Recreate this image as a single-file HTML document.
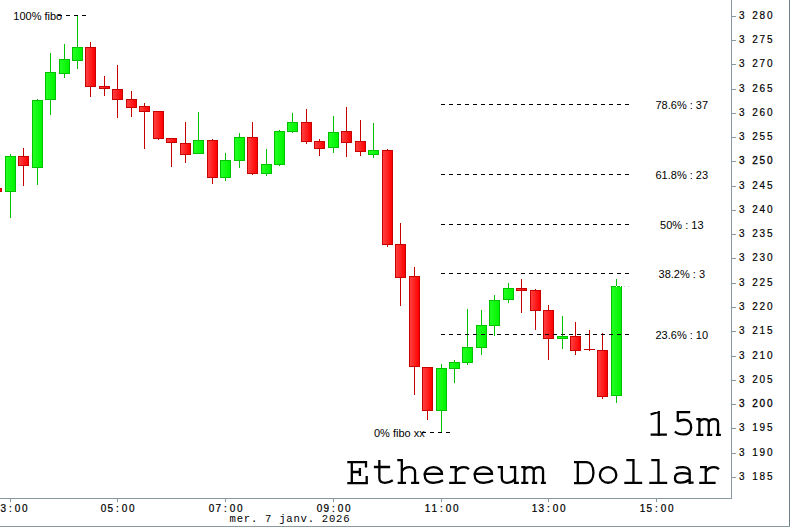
<!DOCTYPE html><html><head><meta charset="utf-8"><title>Ethereum Dollar 15m</title><style>
html,body{margin:0;padding:0;background:#fff;}body{width:790px;height:527px;overflow:hidden;position:relative;}
svg{position:absolute;left:0;top:0;display:block;}
.s{font-family:"Liberation Sans",sans-serif;font-size:11px;fill:#000;}
.ax{font-family:"Liberation Sans",sans-serif;font-size:10px;fill:#000;}
.m{font-family:"Liberation Mono",monospace;fill:#000;}
</style></head><body>
<svg width="790" height="527" viewBox="0 0 790 527">
<defs><linearGradient id="gg" x1="0" x2="1" y1="0" y2="0"><stop offset="0" stop-color="#22ff22"/><stop offset="1" stop-color="#00f400"/></linearGradient>
<linearGradient id="rg" x1="0" x2="1" y1="0" y2="0"><stop offset="0" stop-color="#ff4040"/><stop offset="1" stop-color="#ff0000"/></linearGradient></defs>
<rect x="0" y="0" width="790" height="527" fill="#fff"/>
<g shape-rendering="crispEdges">
<rect x="-4" y="188" width="1" height="4" fill="#c80000"/>
<rect x="-9" y="188" width="11" height="4" fill="#c80000"/>
<rect x="-8" y="189" width="9" height="2" fill="url(#rg)"/>
<rect x="10" y="154" width="1" height="64" fill="#00c000"/>
<rect x="5" y="156" width="11" height="36" fill="#00c000"/>
<rect x="6" y="157" width="9" height="34" fill="url(#gg)"/>
<rect x="23" y="148" width="1" height="38" fill="#c80000"/>
<rect x="18" y="156" width="11" height="10" fill="#c80000"/>
<rect x="19" y="157" width="9" height="8" fill="url(#rg)"/>
<rect x="37" y="99" width="1" height="86" fill="#00c000"/>
<rect x="32" y="100" width="11" height="68" fill="#00c000"/>
<rect x="33" y="101" width="9" height="66" fill="url(#gg)"/>
<rect x="50" y="53" width="1" height="62" fill="#00c000"/>
<rect x="45" y="72" width="11" height="28" fill="#00c000"/>
<rect x="46" y="73" width="9" height="26" fill="url(#gg)"/>
<rect x="64" y="44" width="1" height="34" fill="#00c000"/>
<rect x="59" y="59" width="11" height="15" fill="#00c000"/>
<rect x="60" y="60" width="9" height="13" fill="url(#gg)"/>
<rect x="77" y="15" width="1" height="54" fill="#00c000"/>
<rect x="72" y="47" width="11" height="14" fill="#00c000"/>
<rect x="73" y="48" width="9" height="12" fill="url(#gg)"/>
<rect x="90" y="42" width="1" height="55" fill="#c80000"/>
<rect x="85" y="47" width="11" height="40" fill="#c80000"/>
<rect x="86" y="48" width="9" height="38" fill="url(#rg)"/>
<rect x="104" y="76" width="1" height="20" fill="#c80000"/>
<rect x="99" y="86" width="11" height="3" fill="#c80000"/>
<rect x="100" y="87" width="9" height="1" fill="url(#rg)"/>
<rect x="117" y="65" width="1" height="53" fill="#c80000"/>
<rect x="112" y="89" width="11" height="11" fill="#c80000"/>
<rect x="113" y="90" width="9" height="9" fill="url(#rg)"/>
<rect x="131" y="91" width="1" height="26" fill="#c80000"/>
<rect x="126" y="99" width="11" height="9" fill="#c80000"/>
<rect x="127" y="100" width="9" height="7" fill="url(#rg)"/>
<rect x="144" y="103" width="1" height="46" fill="#c80000"/>
<rect x="139" y="106" width="11" height="6" fill="#c80000"/>
<rect x="140" y="107" width="9" height="4" fill="url(#rg)"/>
<rect x="158" y="111" width="1" height="29" fill="#c80000"/>
<rect x="153" y="111" width="11" height="28" fill="#c80000"/>
<rect x="154" y="112" width="9" height="26" fill="url(#rg)"/>
<rect x="171" y="138" width="1" height="29" fill="#c80000"/>
<rect x="166" y="138" width="11" height="5" fill="#c80000"/>
<rect x="167" y="139" width="9" height="3" fill="url(#rg)"/>
<rect x="185" y="122" width="1" height="41" fill="#c80000"/>
<rect x="180" y="143" width="11" height="12" fill="#c80000"/>
<rect x="181" y="144" width="9" height="10" fill="url(#rg)"/>
<rect x="198" y="112" width="1" height="42" fill="#00c000"/>
<rect x="193" y="140" width="11" height="14" fill="#00c000"/>
<rect x="194" y="141" width="9" height="12" fill="url(#gg)"/>
<rect x="212" y="139" width="1" height="45" fill="#c80000"/>
<rect x="207" y="140" width="11" height="38" fill="#c80000"/>
<rect x="208" y="141" width="9" height="36" fill="url(#rg)"/>
<rect x="225" y="153" width="1" height="28" fill="#00c000"/>
<rect x="220" y="160" width="11" height="18" fill="#00c000"/>
<rect x="221" y="161" width="9" height="16" fill="url(#gg)"/>
<rect x="239" y="133" width="1" height="35" fill="#00c000"/>
<rect x="234" y="137" width="11" height="24" fill="#00c000"/>
<rect x="235" y="138" width="9" height="22" fill="url(#gg)"/>
<rect x="252" y="122" width="1" height="53" fill="#c80000"/>
<rect x="247" y="137" width="11" height="37" fill="#c80000"/>
<rect x="248" y="138" width="9" height="35" fill="url(#rg)"/>
<rect x="266" y="149" width="1" height="27" fill="#00c000"/>
<rect x="261" y="164" width="11" height="10" fill="#00c000"/>
<rect x="262" y="165" width="9" height="8" fill="url(#gg)"/>
<rect x="279" y="130" width="1" height="36" fill="#00c000"/>
<rect x="274" y="131" width="11" height="34" fill="#00c000"/>
<rect x="275" y="132" width="9" height="32" fill="url(#gg)"/>
<rect x="292" y="113" width="1" height="20" fill="#00c000"/>
<rect x="287" y="122" width="11" height="10" fill="#00c000"/>
<rect x="288" y="123" width="9" height="8" fill="url(#gg)"/>
<rect x="306" y="109" width="1" height="35" fill="#c80000"/>
<rect x="301" y="122" width="11" height="20" fill="#c80000"/>
<rect x="302" y="123" width="9" height="18" fill="url(#rg)"/>
<rect x="319" y="139" width="1" height="17" fill="#c80000"/>
<rect x="314" y="141" width="11" height="8" fill="#c80000"/>
<rect x="315" y="142" width="9" height="6" fill="url(#rg)"/>
<rect x="333" y="116" width="1" height="37" fill="#00c000"/>
<rect x="328" y="132" width="11" height="16" fill="#00c000"/>
<rect x="329" y="133" width="9" height="14" fill="url(#gg)"/>
<rect x="346" y="107" width="1" height="50" fill="#c80000"/>
<rect x="341" y="131" width="11" height="12" fill="#c80000"/>
<rect x="342" y="132" width="9" height="10" fill="url(#rg)"/>
<rect x="360" y="120" width="1" height="36" fill="#c80000"/>
<rect x="355" y="141" width="11" height="11" fill="#c80000"/>
<rect x="356" y="142" width="9" height="9" fill="url(#rg)"/>
<rect x="373" y="123" width="1" height="35" fill="#00c000"/>
<rect x="368" y="150" width="11" height="5" fill="#00c000"/>
<rect x="369" y="151" width="9" height="3" fill="url(#gg)"/>
<rect x="387" y="149" width="1" height="98" fill="#c80000"/>
<rect x="382" y="150" width="11" height="95" fill="#c80000"/>
<rect x="383" y="151" width="9" height="93" fill="url(#rg)"/>
<rect x="400" y="223" width="1" height="83" fill="#c80000"/>
<rect x="395" y="244" width="11" height="34" fill="#c80000"/>
<rect x="396" y="245" width="9" height="32" fill="url(#rg)"/>
<rect x="414" y="267" width="1" height="128" fill="#c80000"/>
<rect x="409" y="276" width="11" height="91" fill="#c80000"/>
<rect x="410" y="277" width="9" height="89" fill="url(#rg)"/>
<rect x="427" y="367" width="1" height="53" fill="#c80000"/>
<rect x="422" y="367" width="11" height="44" fill="#c80000"/>
<rect x="423" y="368" width="9" height="42" fill="url(#rg)"/>
<rect x="441" y="364" width="1" height="69" fill="#00c000"/>
<rect x="436" y="368" width="11" height="43" fill="#00c000"/>
<rect x="437" y="369" width="9" height="41" fill="url(#gg)"/>
<rect x="454" y="360" width="1" height="23" fill="#00c000"/>
<rect x="449" y="362" width="11" height="7" fill="#00c000"/>
<rect x="450" y="363" width="9" height="5" fill="url(#gg)"/>
<rect x="467" y="309" width="1" height="56" fill="#00c000"/>
<rect x="462" y="347" width="11" height="16" fill="#00c000"/>
<rect x="463" y="348" width="9" height="14" fill="url(#gg)"/>
<rect x="481" y="310" width="1" height="45" fill="#00c000"/>
<rect x="476" y="325" width="11" height="23" fill="#00c000"/>
<rect x="477" y="326" width="9" height="21" fill="url(#gg)"/>
<rect x="494" y="295" width="1" height="41" fill="#00c000"/>
<rect x="489" y="300" width="11" height="26" fill="#00c000"/>
<rect x="490" y="301" width="9" height="24" fill="url(#gg)"/>
<rect x="508" y="283" width="1" height="20" fill="#00c000"/>
<rect x="503" y="288" width="11" height="12" fill="#00c000"/>
<rect x="504" y="289" width="9" height="10" fill="url(#gg)"/>
<rect x="521" y="279" width="1" height="34" fill="#c80000"/>
<rect x="516" y="288" width="11" height="3" fill="#c80000"/>
<rect x="517" y="289" width="9" height="1" fill="url(#rg)"/>
<rect x="535" y="289" width="1" height="41" fill="#c80000"/>
<rect x="530" y="290" width="11" height="21" fill="#c80000"/>
<rect x="531" y="291" width="9" height="19" fill="url(#rg)"/>
<rect x="548" y="305" width="1" height="55" fill="#c80000"/>
<rect x="543" y="310" width="11" height="29" fill="#c80000"/>
<rect x="544" y="311" width="9" height="27" fill="url(#rg)"/>
<rect x="562" y="316" width="1" height="33" fill="#00c000"/>
<rect x="557" y="336" width="11" height="3" fill="#00c000"/>
<rect x="558" y="337" width="9" height="1" fill="url(#gg)"/>
<rect x="575" y="322" width="1" height="33" fill="#c80000"/>
<rect x="570" y="336" width="11" height="15" fill="#c80000"/>
<rect x="571" y="337" width="9" height="13" fill="url(#rg)"/>
<rect x="589" y="330" width="1" height="21" fill="#c80000"/>
<rect x="584" y="349" width="11" height="1" fill="#c80000"/>
<rect x="602" y="333" width="1" height="66" fill="#c80000"/>
<rect x="597" y="350" width="11" height="47" fill="#c80000"/>
<rect x="598" y="351" width="9" height="45" fill="url(#rg)"/>
<rect x="616" y="279" width="1" height="124" fill="#00c000"/>
<rect x="611" y="286" width="11" height="110" fill="#00c000"/>
<rect x="612" y="287" width="9" height="108" fill="url(#gg)"/>
</g>
<g shape-rendering="crispEdges" fill="#000">
<rect x="441" y="104" width="4" height="1"/>
<rect x="449" y="104" width="4" height="1"/>
<rect x="457" y="104" width="4" height="1"/>
<rect x="465" y="104" width="4" height="1"/>
<rect x="473" y="104" width="4" height="1"/>
<rect x="481" y="104" width="4" height="1"/>
<rect x="489" y="104" width="4" height="1"/>
<rect x="497" y="104" width="4" height="1"/>
<rect x="505" y="104" width="4" height="1"/>
<rect x="513" y="104" width="4" height="1"/>
<rect x="521" y="104" width="4" height="1"/>
<rect x="529" y="104" width="4" height="1"/>
<rect x="537" y="104" width="4" height="1"/>
<rect x="545" y="104" width="4" height="1"/>
<rect x="553" y="104" width="4" height="1"/>
<rect x="561" y="104" width="4" height="1"/>
<rect x="569" y="104" width="4" height="1"/>
<rect x="577" y="104" width="4" height="1"/>
<rect x="585" y="104" width="4" height="1"/>
<rect x="593" y="104" width="4" height="1"/>
<rect x="601" y="104" width="4" height="1"/>
<rect x="609" y="104" width="4" height="1"/>
<rect x="617" y="104" width="4" height="1"/>
<rect x="625" y="104" width="4" height="1"/>
<rect x="441" y="174" width="4" height="1"/>
<rect x="449" y="174" width="4" height="1"/>
<rect x="457" y="174" width="4" height="1"/>
<rect x="465" y="174" width="4" height="1"/>
<rect x="473" y="174" width="4" height="1"/>
<rect x="481" y="174" width="4" height="1"/>
<rect x="489" y="174" width="4" height="1"/>
<rect x="497" y="174" width="4" height="1"/>
<rect x="505" y="174" width="4" height="1"/>
<rect x="513" y="174" width="4" height="1"/>
<rect x="521" y="174" width="4" height="1"/>
<rect x="529" y="174" width="4" height="1"/>
<rect x="537" y="174" width="4" height="1"/>
<rect x="545" y="174" width="4" height="1"/>
<rect x="553" y="174" width="4" height="1"/>
<rect x="561" y="174" width="4" height="1"/>
<rect x="569" y="174" width="4" height="1"/>
<rect x="577" y="174" width="4" height="1"/>
<rect x="585" y="174" width="4" height="1"/>
<rect x="593" y="174" width="4" height="1"/>
<rect x="601" y="174" width="4" height="1"/>
<rect x="609" y="174" width="4" height="1"/>
<rect x="617" y="174" width="4" height="1"/>
<rect x="625" y="174" width="4" height="1"/>
<rect x="441" y="224" width="4" height="1"/>
<rect x="449" y="224" width="4" height="1"/>
<rect x="457" y="224" width="4" height="1"/>
<rect x="465" y="224" width="4" height="1"/>
<rect x="473" y="224" width="4" height="1"/>
<rect x="481" y="224" width="4" height="1"/>
<rect x="489" y="224" width="4" height="1"/>
<rect x="497" y="224" width="4" height="1"/>
<rect x="505" y="224" width="4" height="1"/>
<rect x="513" y="224" width="4" height="1"/>
<rect x="521" y="224" width="4" height="1"/>
<rect x="529" y="224" width="4" height="1"/>
<rect x="537" y="224" width="4" height="1"/>
<rect x="545" y="224" width="4" height="1"/>
<rect x="553" y="224" width="4" height="1"/>
<rect x="561" y="224" width="4" height="1"/>
<rect x="569" y="224" width="4" height="1"/>
<rect x="577" y="224" width="4" height="1"/>
<rect x="585" y="224" width="4" height="1"/>
<rect x="593" y="224" width="4" height="1"/>
<rect x="601" y="224" width="4" height="1"/>
<rect x="609" y="224" width="4" height="1"/>
<rect x="617" y="224" width="4" height="1"/>
<rect x="625" y="224" width="4" height="1"/>
<rect x="441" y="273" width="4" height="1"/>
<rect x="449" y="273" width="4" height="1"/>
<rect x="457" y="273" width="4" height="1"/>
<rect x="465" y="273" width="4" height="1"/>
<rect x="473" y="273" width="4" height="1"/>
<rect x="481" y="273" width="4" height="1"/>
<rect x="489" y="273" width="4" height="1"/>
<rect x="497" y="273" width="4" height="1"/>
<rect x="505" y="273" width="4" height="1"/>
<rect x="513" y="273" width="4" height="1"/>
<rect x="521" y="273" width="4" height="1"/>
<rect x="529" y="273" width="4" height="1"/>
<rect x="537" y="273" width="4" height="1"/>
<rect x="545" y="273" width="4" height="1"/>
<rect x="553" y="273" width="4" height="1"/>
<rect x="561" y="273" width="4" height="1"/>
<rect x="569" y="273" width="4" height="1"/>
<rect x="577" y="273" width="4" height="1"/>
<rect x="585" y="273" width="4" height="1"/>
<rect x="593" y="273" width="4" height="1"/>
<rect x="601" y="273" width="4" height="1"/>
<rect x="609" y="273" width="4" height="1"/>
<rect x="617" y="273" width="4" height="1"/>
<rect x="625" y="273" width="4" height="1"/>
<rect x="441" y="334" width="4" height="1"/>
<rect x="449" y="334" width="4" height="1"/>
<rect x="457" y="334" width="4" height="1"/>
<rect x="465" y="334" width="4" height="1"/>
<rect x="473" y="334" width="4" height="1"/>
<rect x="481" y="334" width="4" height="1"/>
<rect x="489" y="334" width="4" height="1"/>
<rect x="497" y="334" width="4" height="1"/>
<rect x="505" y="334" width="4" height="1"/>
<rect x="513" y="334" width="4" height="1"/>
<rect x="521" y="334" width="4" height="1"/>
<rect x="529" y="334" width="4" height="1"/>
<rect x="537" y="334" width="4" height="1"/>
<rect x="545" y="334" width="4" height="1"/>
<rect x="553" y="334" width="4" height="1"/>
<rect x="561" y="334" width="4" height="1"/>
<rect x="569" y="334" width="4" height="1"/>
<rect x="577" y="334" width="4" height="1"/>
<rect x="585" y="334" width="4" height="1"/>
<rect x="593" y="334" width="4" height="1"/>
<rect x="601" y="334" width="4" height="1"/>
<rect x="609" y="334" width="4" height="1"/>
<rect x="617" y="334" width="4" height="1"/>
<rect x="625" y="334" width="4" height="1"/>
<rect x="58" y="15" width="4" height="1"/>
<rect x="422" y="432" width="4" height="1"/>
<rect x="66" y="15" width="4" height="1"/>
<rect x="430" y="432" width="4" height="1"/>
<rect x="74" y="15" width="4" height="1"/>
<rect x="438" y="432" width="4" height="1"/>
<rect x="82" y="15" width="4" height="1"/>
<rect x="446" y="432" width="4" height="1"/>
</g>
<g shape-rendering="crispEdges">
<rect x="616" y="286" width="1" height="1" fill="#eef6ee"/>
<rect x="620" y="286" width="1" height="1" fill="#eef6ee"/>
<rect x="624" y="286" width="1" height="1" fill="#d2d2d2"/>
<rect x="628" y="286" width="1" height="1" fill="#d2d2d2"/>
</g>
<text class="s" x="13.3" y="20">100% fibo</text>
<text class="s" x="374" y="437">0% fibo xx</text>
<text class="s" x="681.8" y="109" text-anchor="middle">78.6% : 37</text>
<text class="s" x="681.8" y="179" text-anchor="middle">61.8% : 23</text>
<text class="s" x="681.8" y="229" text-anchor="middle">50% : 13</text>
<text class="s" x="681.8" y="278" text-anchor="middle">38.2% : 3</text>
<text class="s" x="681.8" y="339" text-anchor="middle">23.6% : 10</text>
<g shape-rendering="crispEdges" fill="#8a98a2">
<rect x="731" y="0" width="1" height="499"/>
<rect x="0" y="498" width="732" height="1"/>
<rect x="732" y="16" width="4" height="1"/>
<rect x="732" y="40" width="4" height="1"/>
<rect x="732" y="64" width="4" height="1"/>
<rect x="732" y="89" width="4" height="1"/>
<rect x="732" y="113" width="4" height="1"/>
<rect x="732" y="137" width="4" height="1"/>
<rect x="732" y="161" width="4" height="1"/>
<rect x="732" y="186" width="4" height="1"/>
<rect x="732" y="210" width="4" height="1"/>
<rect x="732" y="234" width="4" height="1"/>
<rect x="732" y="258" width="4" height="1"/>
<rect x="732" y="283" width="4" height="1"/>
<rect x="732" y="307" width="4" height="1"/>
<rect x="732" y="331" width="4" height="1"/>
<rect x="732" y="356" width="4" height="1"/>
<rect x="732" y="380" width="4" height="1"/>
<rect x="732" y="404" width="4" height="1"/>
<rect x="732" y="428" width="4" height="1"/>
<rect x="732" y="453" width="4" height="1"/>
<rect x="732" y="477" width="4" height="1"/>
<rect x="10" y="499" width="1" height="3"/>
<rect x="117" y="499" width="1" height="3"/>
<rect x="225" y="499" width="1" height="3"/>
<rect x="333" y="499" width="1" height="3"/>
<rect x="441" y="499" width="1" height="3"/>
<rect x="548" y="499" width="1" height="3"/>
<rect x="656" y="499" width="1" height="3"/>
</g>
<rect x="789" y="0" width="1" height="527" fill="#6f7f89" shape-rendering="crispEdges"/>
<rect x="0" y="526" width="790" height="1" fill="#8a99a2" shape-rendering="crispEdges"/>
<text class="ax" x="738.9 745.8 752.3 759.6 766.9" y="19" font-size="9.6" stroke="#000" stroke-width="0.18">3 280</text>
<text class="ax" x="738.9 745.8 752.3 759.6 766.9" y="43" font-size="9.6" stroke="#000" stroke-width="0.18">3 275</text>
<text class="ax" x="738.9 745.8 752.3 759.6 766.9" y="67" font-size="9.6" stroke="#000" stroke-width="0.18">3 270</text>
<text class="ax" x="738.9 745.8 752.3 759.6 766.9" y="92" font-size="9.6" stroke="#000" stroke-width="0.18">3 265</text>
<text class="ax" x="738.9 745.8 752.3 759.6 766.9" y="116" font-size="9.6" stroke="#000" stroke-width="0.18">3 260</text>
<text class="ax" x="738.9 745.8 752.3 759.6 766.9" y="140" font-size="9.6" stroke="#000" stroke-width="0.18">3 255</text>
<text class="ax" x="738.9 745.8 752.3 759.6 766.9" y="164" font-size="10.8" stroke="#000" stroke-width="0.3">3 250</text>
<text class="ax" x="738.9 745.8 752.3 759.6 766.9" y="189" font-size="9.6" stroke="#000" stroke-width="0.18">3 245</text>
<text class="ax" x="738.9 745.8 752.3 759.6 766.9" y="213" font-size="9.6" stroke="#000" stroke-width="0.18">3 240</text>
<text class="ax" x="738.9 745.8 752.3 759.6 766.9" y="237" font-size="9.6" stroke="#000" stroke-width="0.18">3 235</text>
<text class="ax" x="738.9 745.8 752.3 759.6 766.9" y="261" font-size="9.6" stroke="#000" stroke-width="0.18">3 230</text>
<text class="ax" x="738.9 745.8 752.3 759.6 766.9" y="286" font-size="9.6" stroke="#000" stroke-width="0.18">3 225</text>
<text class="ax" x="738.9 745.8 752.3 759.6 766.9" y="310" font-size="9.6" stroke="#000" stroke-width="0.18">3 220</text>
<text class="ax" x="738.9 745.8 752.3 759.6 766.9" y="334" font-size="9.6" stroke="#000" stroke-width="0.18">3 215</text>
<text class="ax" x="738.9 745.8 752.3 759.6 766.9" y="359" font-size="9.6" stroke="#000" stroke-width="0.18">3 210</text>
<text class="ax" x="738.9 745.8 752.3 759.6 766.9" y="383" font-size="9.6" stroke="#000" stroke-width="0.18">3 205</text>
<text class="ax" x="738.9 745.8 752.3 759.6 766.9" y="407" font-size="10.8" stroke="#000" stroke-width="0.3">3 200</text>
<text class="ax" x="738.9 745.8 752.3 759.6 766.9" y="431" font-size="9.6" stroke="#000" stroke-width="0.18">3 195</text>
<text class="ax" x="738.9 745.8 752.3 759.6 766.9" y="456" font-size="9.6" stroke="#000" stroke-width="0.18">3 190</text>
<text class="ax" x="738.9 745.8 752.3 759.6 766.9" y="480" font-size="9.6" stroke="#000" stroke-width="0.18">3 185</text>
<text class="ax" x="-6.3 0.6 9.1 14.7 21.9" y="512" font-size="9.4" stroke="#000" stroke-width="0.22">03:00</text>
<text class="ax" x="100.7 107.6 116.1 121.7 128.9" y="512" font-size="9.4" stroke="#000" stroke-width="0.22">05:00</text>
<text class="ax" x="208.7 215.6 224.1 229.7 236.9" y="512" font-size="9.4" stroke="#000" stroke-width="0.22">07:00</text>
<text class="ax" x="316.7 323.6 332.1 337.7 344.9" y="512" font-size="9.4" stroke="#000" stroke-width="0.22">09:00</text>
<text class="ax" x="424.7 431.6 440.1 445.7 452.9" y="512" font-size="9.4" stroke="#000" stroke-width="0.22">11:00</text>
<text class="ax" x="531.7 538.6 547.1 552.7 559.9" y="512" font-size="9.4" stroke="#000" stroke-width="0.22">13:00</text>
<text class="ax" x="639.7 646.6 655.1 660.7 667.9" y="512" font-size="9.4" stroke="#000" stroke-width="0.22">15:00</text>
<text class="m" x="229.6" y="522" font-size="10.6" letter-spacing="0.74">mer. 7 janv. 2026</text>
<g fill="none" stroke="#000" stroke-width="2.3"><path transform="translate(643,436)" d="M15.8,-25.1V0 M7.6,-1.3H23.9 M15.3,-24C13,-23.2 10,-22.3 7.6,-21.7"/><path transform="translate(668,436)" d="M8.6,-23.85H22.2 M9.8,-25.1V-14.3 M9.8,-14.5C12,-16 14.5,-16.25 16.5,-16.25C21,-16.25 23.15,-12.8 23.15,-8.6C23.15,-3.5 20,-1.55 15.5,-1.55C12,-1.55 9,-2.5 6.9,-4.5"/><path transform="translate(693,436)" d="M3.3,-16.95H7.6 M6.4,-18V0 M3.3,-1.1H10.3 M6.4,-14C7.5,-16 9.5,-16.85 11.5,-16.85C14,-16.85 15.75,-15.5 15.75,-13V0 M13.9,-1.1H19.2 M15.75,-14C16.8,-16 18.8,-16.85 21,-16.85C23.5,-16.85 25.05,-15.5 25.05,-13V0 M22.9,-1.1H27.9"/></g>
<g fill="none" stroke="#000" stroke-width="2.3"><path transform="translate(343,484)" d="M4.3,-21.85H23.9 M23,-23V-16.4 M8.8,-21.85V-0.95 M4.3,-0.95H24.9 M23.7,-8.1V0.2 M8.8,-12H17.9 M16.9,-16V-8.1"/><path transform="translate(368,484)" d="M5.9,-17H22.1 M11.35,-24V-6C11.35,-2 14,-1.2 17,-1.2C20,-1.2 22.8,-2.3 24.8,-3.7"/><path transform="translate(393,484)" d="M4.3,-23.8H9.9 M8.8,-24.9V0 M4.7,-1.1H13 M8.8,-12.5C10.5,-15.5 13,-16.85 16.3,-16.85C19.8,-16.85 22.05,-14.8 22.05,-11.5V0 M18.1,-1.1H26.2"/><path transform="translate(418,484)" d="M5.5,-10.1H25.1 M23.95,-10.1C23.95,-14.2 20,-16.85 15.3,-16.85C10.2,-16.85 6.65,-13.5 6.65,-9C6.65,-4 10.2,-1.2 15.5,-1.2C19.5,-1.2 22.8,-2.4 25,-3.8"/><path transform="translate(443,484)" d="M7,-16.95H13.9 M12.75,-18V0 M6.2,-1.1H22.6 M12.75,-12C14.5,-15.3 17.5,-16.85 21,-16.85C23,-16.85 24.7,-16.2 25.9,-14.8"/><path transform="translate(468,484)" d="M5.5,-10.1H25.1 M23.95,-10.1C23.95,-14.2 20,-16.85 15.3,-16.85C10.2,-16.85 6.65,-13.5 6.65,-9C6.65,-4 10.2,-1.2 15.5,-1.2C19.5,-1.2 22.8,-2.4 25,-3.8"/><path transform="translate(493,484)" d="M4.7,-16.95H10 M8.8,-18V-6C8.8,-2.5 11,-1.2 14,-1.2C17.5,-1.2 20.5,-3 22.05,-5.5 M16.9,-16.95H23.2 M22.05,-18V0 M20.9,-1.1H25.9"/><path transform="translate(518,484)" d="M3.3,-16.95H7.6 M6.4,-18V0 M3.3,-1.1H10.3 M6.4,-14C7.5,-16 9.5,-16.85 11.5,-16.85C14,-16.85 15.75,-15.5 15.75,-13V0 M13.9,-1.1H19.2 M15.75,-14C16.8,-16 18.8,-16.85 21,-16.85C23.5,-16.85 25.05,-15.5 25.05,-13V0 M22.9,-1.1H27.9"/><path transform="translate(568,484)" d="M6,-21.85H18 M6,-0.95H18 M9.8,-23V0.2 M18,-21.85C22.5,-21.85 25.45,-18 25.45,-11.4C25.45,-4.8 22.5,-0.95 18,-0.95"/><path transform="translate(593,484)" d="M23.35,-9.05A8.25,7.8 0 1 1 6.85,-9.05A8.25,7.8 0 1 1 23.35,-9.05Z"/><path transform="translate(618,484)" d="M8.3,-23.8H16.6 M15.45,-24.9V0 M6.3,-1.1H24.2"/><path transform="translate(643,484)" d="M8.3,-23.8H16.6 M15.45,-24.9V0 M6.3,-1.1H24.2"/><path transform="translate(668,484)" d="M7.9,-15.7C9.5,-16.6 12,-16.95 15,-16.95C19,-16.95 21.7,-15 21.7,-11.5V0 M20.5,-1.3H25.6 M21.7,-9.8C19,-10.6 16.5,-10.85 13.5,-10.85C9,-10.85 6.95,-8.5 6.95,-5.8C6.95,-3 9,-1.45 12.5,-1.45C16,-1.45 19.5,-2.8 21.7,-4.5"/><path transform="translate(693,484)" d="M7,-16.95H13.9 M12.75,-18V0 M6.2,-1.1H22.6 M12.75,-12C14.5,-15.3 17.5,-16.85 21,-16.85C23,-16.85 24.7,-16.2 25.9,-14.8"/></g>
</svg></body></html>
